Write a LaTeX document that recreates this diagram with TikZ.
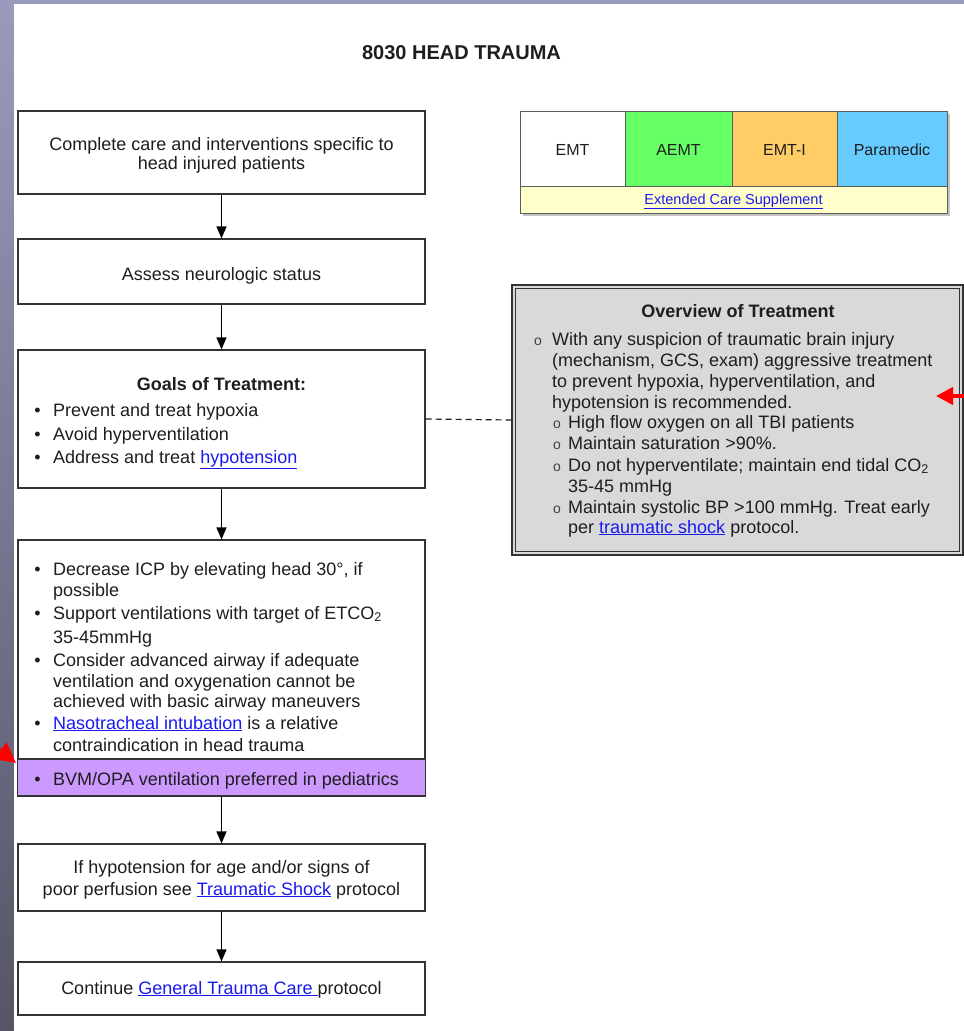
\documentclass[tikz,border=0pt]{standalone}
\usepackage{fontspec}
\setmainfont{Liberation Sans}
\usetikzlibrary{arrows.meta}
\definecolor{txt}{HTML}{1E1E1E}
\definecolor{lnk}{HTML}{1A1AF0}
\definecolor{bord}{HTML}{333333}
\definecolor{purp}{HTML}{CC99FF}
\definecolor{ovgray}{HTML}{D9D9D9}
\definecolor{cgreen}{HTML}{66FF66}
\definecolor{corange}{HTML}{FFCC66}
\definecolor{cblue}{HTML}{66CCFF}
\definecolor{cyell}{HTML}{FFFFCC}
\definecolor{bgtop}{HTML}{9A9ABD}
\definecolor{bgbot}{HTML}{555566}
\newcommand{\lk}[1]{\textcolor{lnk}{\underline{#1}}}
\begin{document}
\begin{tikzpicture}[x=1pt,y=-1pt,
  box/.style={draw=bord, line width=1.2pt, fill=white, inner sep=0pt},
  cell/.style={draw=bord!80, line width=1pt, inner sep=0pt},
  flow/.style={-{Triangle[length=12pt,width=10pt]}, line width=1.3pt, black},
  tx/.style={anchor=base, text=txt, inner sep=0pt, font=\fontsize{18}{22}\selectfont},
  txl/.style={tx, anchor=base west},
  bul/.style={tx},
  obul/.style={anchor=base, text=txt!85, inner sep=0pt, font=\fontsize{14}{14}\selectfont},
  small/.style={anchor=base, text=txt, inner sep=0pt, font=\fontsize{16}{19}\selectfont},
  redarrow/.style={red, line width=4pt, -{Triangle[length=20pt,width=20pt]}}
]
\useasboundingbox (0,0) rectangle (964,1031);
% background
\shade[top color=bgtop, bottom color=bgbot] (0,0) rectangle (964,1031);
\fill[white] (14,4) rectangle (964,1031);

% title
\node[anchor=base, text=txt, inner sep=0pt, font=\bfseries\fontsize{20}{24}\selectfont] (title) at (461.5,59.5) {8030 HEAD TRAUMA};

% flow boxes
\node[box, minimum width=407pt, minimum height=83pt] (b1) at (221.5,152.5) {};
\node[box, minimum width=407pt, minimum height=65pt] (b2) at (221.5,271.5) {};
\node[box, minimum width=407pt, minimum height=138pt] (b3) at (221.5,419) {};
\node[box, minimum width=407pt, minimum height=256pt] (b4) at (221.5,668) {};
\node[draw=bord, line width=1.2pt, fill=purp, inner sep=0pt, minimum width=408pt, minimum height=37pt] (b4p) at (221.5,777.5) {};
\node[box, minimum width=407pt, minimum height=67pt] (b5) at (221.5,877.5) {};
\node[box, minimum width=407pt, minimum height=53pt] (b6) at (221.5,988.5) {};

\draw[flow] (b1.south) -- (b2.north);
\draw[flow] (b2.south) -- (b3.north);
\draw[flow] (b3.south) -- (b4.north);
\draw[flow] (b4p.south) -- (b5.north);
\draw[flow] (b5.south) -- (b6.north);

% box 1
\node[tx] (t1a) at (221.5,150) {Complete care and interventions specific to};
\node[tx] (t1b) at (221.5,169) {head injured patients};
% box 2
\node[tx] (t2) at (221.5,280) {Assess neurologic status};
% box 3
\node[tx, font=\bfseries\fontsize{18}{22}\selectfont] (t3) at (221.5,390) {Goals of Treatment:};
\node[bul] at (37.5,416) {•};
\node[txl] at (53,416) {Prevent and treat hypoxia};
\node[bul] at (37.5,440) {•};
\node[txl] at (53,440) {Avoid hyperventilation};
\node[bul] at (37.5,463) {•};
\node[txl] at (53,463) {Address and treat \lk{hypotension}};
% box 4
\node[bul] at (37.5,575) {•};
\node[txl] at (53,575) {Decrease ICP by elevating head 30°, if};
\node[txl] at (53,596) {possible};
\node[bul] at (37.5,619) {•};
\node[txl] at (53,619) {Support ventilations with target of ETCO\textsubscript{2}};
\node[txl] at (53,643) {35-45mmHg};
\node[bul] at (37.5,666) {•};
\node[txl] at (53,666) {Consider advanced airway if adequate};
\node[txl] at (53,687) {ventilation and oxygenation cannot be};
\node[txl] at (53,707) {achieved with basic airway maneuvers};
\node[bul] at (37.5,729) {•};
\node[txl] at (53,729) {\lk{Nasotracheal intubation} is a relative};
\node[txl] at (53,751) {contraindication in head trauma};
\node[bul] at (37.5,785) {•};
\node[txl] at (53,785) {BVM/OPA ventilation preferred in pediatrics};
% box 5
\node[tx] at (221.5,873) {If hypotension for age and/or signs of};
\node[tx] at (221.5,895) {poor perfusion see \lk{Traumatic Shock} protocol};
% box 6
\node[tx] at (221.5,994) {Continue \lk{General Trauma Care\ }protocol};

% level table
\fill[gray!45] (522.5,113.5) rectangle (949.5,215.5);
\node[cell, fill=white, minimum width=105pt, minimum height=75pt] (emt) at (572.5,148.5) {};
\node[cell, fill=cgreen, minimum width=107pt, minimum height=75pt] (aemt) at (678.5,148.5) {};
\node[cell, fill=corange, minimum width=105pt, minimum height=75pt] (emti) at (784.5,148.5) {};
\node[cell, fill=cblue, minimum width=110pt, minimum height=75pt] (para) at (892,148.5) {};
\node[cell, fill=cyell, minimum width=427pt, minimum height=27pt] (ext) at (733.5,199.5) {};
\node[small] at (572.5,155.5) {EMT};
\node[small] at (678.5,155.5) {AEMT};
\node[small] at (784.5,155.5) {EMT-I};
\node[small] at (892,155.5) {Paramedic};
\node[anchor=base, inner sep=0pt, font=\fontsize{14.5}{17}\selectfont] at (733.5,204) {\lk{Extended Care Supplement}};

% overview box
\node[draw=bord, line width=2.4pt, fill=ovgray, inner sep=0pt, minimum width=451pt, minimum height=270pt] (ov) at (737.5,420) {};
\draw[bord, line width=1.3pt] ([shift={(4.5,5)}]ov.north west) rectangle ([shift={(-4.5,-5)}]ov.south east);
\draw[txt, line width=1.2pt, dash pattern=on 6pt off 4pt] (b3.east) -- (ov.west);

\node[tx, font=\bfseries\fontsize{18}{22}\selectfont] at (738,317) {Overview of Treatment};
\node[obul] at (538,345) {o};
\node[txl] at (552,345) {With any suspicion of traumatic brain injury};
\node[txl] at (552,366) {(mechanism, GCS, exam) aggressive treatment};
\node[txl] at (552,387) {to prevent hypoxia, hyperventilation, and};
\node[txl] at (552,408) {hypotension is recommended.};
\node[obul] at (557,428) {o};
\node[txl] at (568,428) {High flow oxygen on all TBI patients};
\node[obul] at (557,449) {o};
\node[txl] at (568,449) {Maintain saturation >90\%.};
\node[obul] at (557,471) {o};
\node[txl] at (568,471) {Do not hyperventilate; maintain end tidal CO\textsubscript{2}};
\node[txl] at (568,492) {35-45 mmHg};
\node[obul] at (557,513) {o};
\node[txl] at (568,513) {Maintain systolic BP >100 mmHg. Treat early};
\node[txl] at (568,533) {per \lk{traumatic shock} protocol.};

% red pointer arrows
\coordinate (rl0) at (-34,724);
\coordinate (rl1) at (16,763);
\coordinate (rr0) at (976,396);
\coordinate (rr1) at (936,396);
\draw[redarrow] (rl0) -- (rl1);
\draw[redarrow, -{Triangle[length=17pt,width=17pt]}] (rr0) -- (rr1);
\end{tikzpicture}
\end{document}
